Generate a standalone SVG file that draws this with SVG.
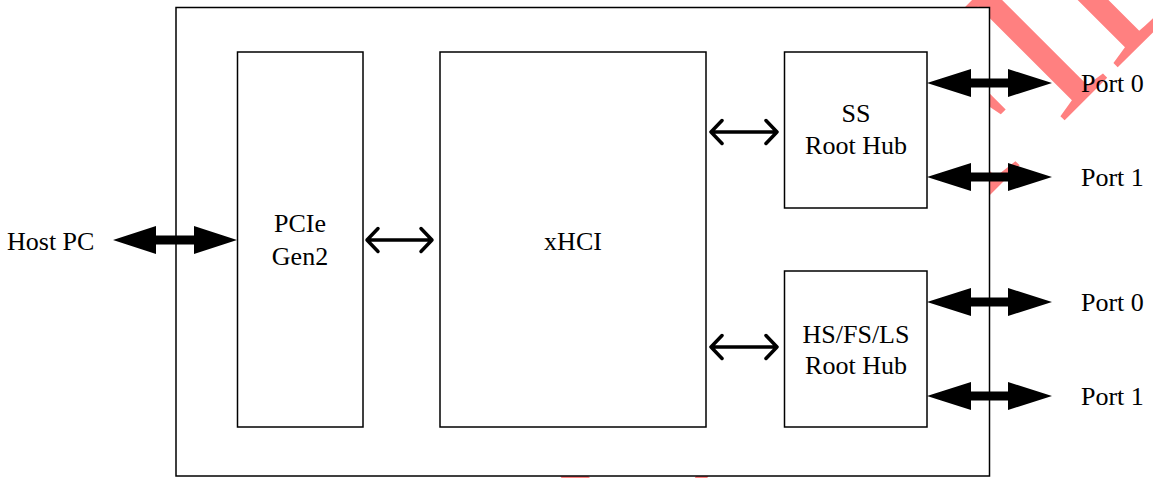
<svg xmlns="http://www.w3.org/2000/svg" width="1153" height="478" viewBox="0 0 1153 478">
<style>
.box{fill:#fff;stroke:#000;stroke-width:1.5}
.t{font-family:"Liberation Serif","Times New Roman",serif;font-size:26px;fill:#000}
.c{text-anchor:middle}
.fat{fill:#000}
.thin{fill:none;stroke:#000;stroke-width:3.5;stroke-linecap:round;stroke-linejoin:round}
.wm{font-family:"Liberation Serif","Times New Roman",serif;font-size:230px;fill:#ff8080}
</style>
<rect width="1153" height="478" fill="#fff"/>
<g id="watermark">
<text class="wm" transform="translate(625,560) rotate(-45)">CONFIDENTIAL</text>
</g>
<g id="chip"><rect class="box" x="176" y="7.5" width="813.5" height="468.5"/></g>
<g id="pcie"><rect class="box" x="237.5" y="52" width="125.5" height="375"/>
<text class="t c" x="300" y="232">PCIe</text><text class="t c" x="300" y="265">Gen2</text></g>
<g id="xhci"><rect class="box" x="440" y="52" width="266" height="375"/>
<text class="t c" x="573" y="250">xHCI</text></g>
<g id="ss"><rect class="box" x="784.5" y="52" width="142.5" height="156"/>
<text class="t c" x="856" y="122">SS</text><text class="t c" x="856" y="154">Root Hub</text></g>
<g id="hs"><rect class="box" x="784.5" y="271" width="142.5" height="156"/>
<text class="t c" x="856" y="343">HS/FS/LS</text><text class="t c" x="856" y="374">Root Hub</text></g>
<g id="hostpc"><text class="t" x="7" y="250">Host PC</text></g>
<g id="ports">
<text class="t" x="1081" y="92">Port 0</text>
<text class="t" x="1081" y="186">Port 1</text>
<text class="t" x="1081" y="311">Port 0</text>
<text class="t" x="1081" y="405">Port 1</text>
</g>
<g id="connectors">
<polygon class="fat" points="113,240 156,226 156,235.5 194,235.5 194,226 237,240 194,254 194,244.5 156,244.5 156,254"/>
<polygon class="fat" points="927,83 971,69 971,78.5 1008,78.5 1008,69 1052,83 1008,97 1008,87.5 971,87.5 971,97"/>
<polygon class="fat" points="927,177 971,163 971,172.5 1008,172.5 1008,163 1052,177 1008,191 1008,181.5 971,181.5 971,191"/>
<polygon class="fat" points="927,302 971,288 971,297.5 1008,297.5 1008,288 1052,302 1008,316 1008,306.5 971,306.5 971,316"/>
<polygon class="fat" points="927,396 971,382 971,391.5 1008,391.5 1008,382 1052,396 1008,410 1008,400.5 971,400.5 971,410"/>
<g class="thin">
<path d="M367,240H432M378,228.5L367,240L378,251.5M421,228.5L432,240L421,251.5"/>
<path d="M711,132H777M722,120.5L711,132L722,143.5M766,120.5L777,132L766,143.5"/>
<path d="M711,347H777M722,335.5L711,347L722,358.5M766,335.5L777,347L766,358.5"/>
</g>
</g>
</svg>
